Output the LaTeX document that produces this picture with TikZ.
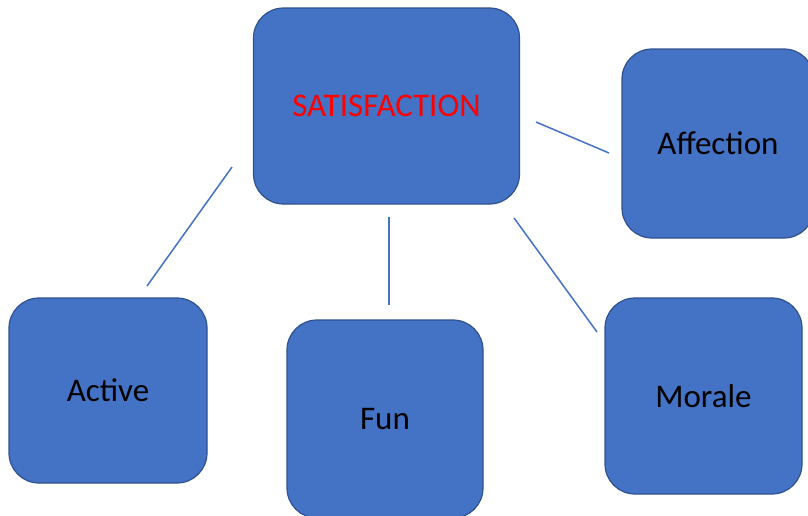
\documentclass[tikz,border=0pt]{standalone}
\usepackage{fontspec}
\setmainfont{Carlito}
\definecolor{boxfill}{HTML}{4472C4}
\definecolor{boxedge}{HTML}{2F528F}
\definecolor{linkcol}{HTML}{4472C4}
\begin{document}
\begin{tikzpicture}[x=1pt,y=-1pt,
  box/.style={draw=boxedge,line width=1.2pt,fill=boxfill,rounded corners=30pt,
    inner sep=0pt,font=\fontsize{33}{38}\selectfont,text=black},
  link/.style={draw=linkcol,line width=1.5pt}]
\useasboundingbox (0,0) rectangle (808,515);
\clip (0,0) rectangle (808,515);
\node[box,minimum width=266pt,minimum height=196pt,text=red] (sat) at (386.5,106) {SATISFACTION};
\node[box,minimum width=192pt,minimum height=189pt] (aff) at (718,143.5) {Affection};
\node[box,minimum width=198pt,minimum height=185pt] (act) at (108,390.5) {Active};
\node[box,minimum width=196pt,minimum height=198pt] (fun) at (385,419) {Fun};
\node[box,minimum width=197pt,minimum height=196pt] (mor) at (703.5,396) {Morale};
\coordinate (l1a) at (232,167);
\coordinate (l1b) at (147,286);
\coordinate (l2a) at (389,217);
\coordinate (l2b) at (389,305);
\coordinate (l3a) at (514,218);
\coordinate (l3b) at (597,332);
\coordinate (l4a) at (536,122);
\coordinate (l4b) at (609,153);
\draw[link] (l1a) -- (l1b);
\draw[link] (l2a) -- (l2b);
\draw[link] (l3a) -- (l3b);
\draw[link] (l4a) -- (l4b);
\end{tikzpicture}
\end{document}
